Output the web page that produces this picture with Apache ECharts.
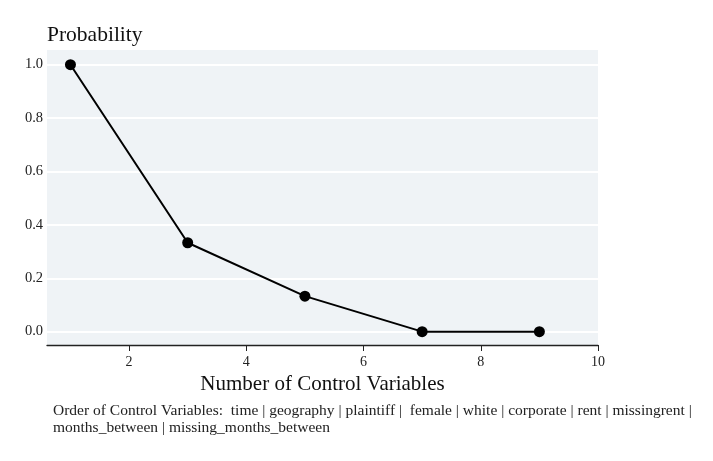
<!DOCTYPE html>
<html>
<head>
<meta charset="utf-8">
<script src="https://cdn.jsdelivr.net/npm/echarts@6/dist/echarts.min.js"></script>
<style>
  html, body { margin: 0; padding: 0; background: #fff; }
  #chart { width: 713px; height: 461px; }
</style>
</head>
<body>
<div id="chart"></div>
<script>
// data
var controlCounts = [1, 3, 5, 7, 9];
var probabilities = [1.0, 0.333, 0.133, 0.0, 0.0];
var xTicks = [2, 4, 6, 8, 10];
var yTicks = [0, 0.2, 0.4, 0.6, 0.8, 1.0];
var captionLines = [
    'Order of Control Variables:  time | geography | plaintiff |  female | white | corporate | rent | missingrent |',
    'months_between | missing_months_between'
];

var serif = '"Liberation Serif", "DejaVu Serif", serif';

var dom = document.getElementById('chart');
var myChart = echarts.init(dom, null, { renderer: 'canvas' });

var points = [];
for (var i = 0; i < controlCounts.length; i++) {
    points.push([controlCounts[i], probabilities[i]]);
}

var option = {
    animation: false,
    textStyle: { fontFamily: serif },
    grid: {
        left: 47,
        right: 115,
        top: 50,
        bottom: 116,
        show: true,
        backgroundColor: '#eff3f6',
        borderWidth: 0
    },
    xAxis: {
        type: 'value',
        min: 0.6,
        max: 10,
        name: 'Number of Control Variables',
        nameLocation: 'middle',
        nameGap: 29,
        nameTextStyle: { fontSize: 21, color: '#111', fontFamily: serif },
        axisLine: { show: true, onZero: false, lineStyle: { color: '#222', width: 1.3 } },
        axisTick: { show: true, length: 6, customValues: xTicks, lineStyle: { color: '#222' } },
        axisLabel: { customValues: xTicks, fontSize: 14, color: '#222', margin: 10, fontFamily: serif },
        splitLine: { show: false }
    },
    yAxis: {
        type: 'value',
        min: -0.05,
        max: 1.055,
        axisLine: { show: false },
        axisTick: { show: false, customValues: yTicks },
        axisLabel: {
            customValues: yTicks,
            fontSize: 14.5,
            color: '#222',
            margin: 4,
            fontFamily: serif,
            formatter: function (v) { return v.toFixed(1); }
        },
        splitLine: { show: true, lineStyle: { color: '#ffffff', width: 2 } }
    },
    graphic: [
        {
            type: 'text',
            left: 47,
            top: 24,
            style: { text: 'Probability', font: '21.5px ' + serif, fill: '#111' }
        },
        {
            type: 'text',
            left: 53,
            top: 402,
            style: { text: captionLines.join('\n'), font: '15.5px ' + serif, fill: '#222', lineHeight: 17 }
        }
    ],
    series: [
        {
            type: 'line',
            data: points,
            symbol: 'circle',
            symbolSize: 11,
            itemStyle: { color: '#000' },
            lineStyle: { color: '#000', width: 2 },
            clip: false
        }
    ]
};

myChart.setOption(option);
window.addEventListener('resize', myChart.resize);
</script>
</body>
</html>
